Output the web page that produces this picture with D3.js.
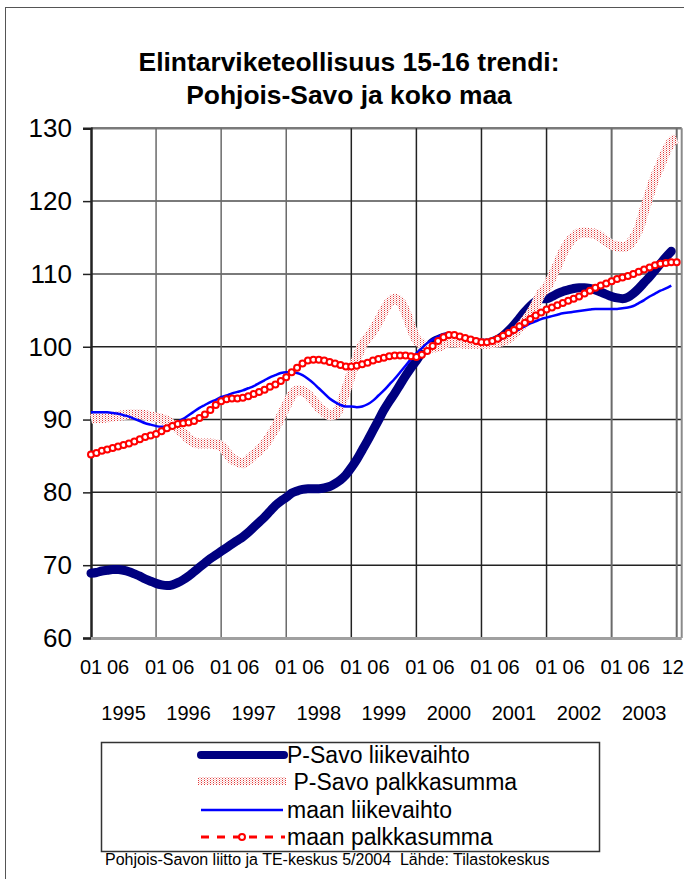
<!DOCTYPE html>
<html lang="fi">
<head>
<meta charset="UTF-8">
<title>Elintarviketeollisuus 15-16 trendi</title>
<style>
  body { margin: 0; background: #fff; }
  svg text { font-family: Arial, "Liberation Sans", sans-serif; fill: #000; }
</style>
</head>
<body>
<div id="chart"></div>
<script src="https://cdn.jsdelivr.net/npm/d3@7"></script>
<script>
// kuukausisarjat 01/1995 ->, indeksi (2000 = 100)
var years = [1995, 1996, 1997, 1998, 1999, 2000, 2001, 2002, 2003];
var monthLabels = ["01", "06"];
var lastLabel = "12";
var yTicks = [60, 70, 80, 90, 100, 110, 120, 130];

var psavoLiikevaihto = [
  68.9, 69.0, 69.2, 69.3, 69.4, 69.4, 69.3, 69.1, 68.8, 68.5, 68.1, 67.8,
  67.5, 67.3, 67.2, 67.3, 67.6, 68.0, 68.5, 69.1, 69.7, 70.3, 70.9, 71.4,
  71.9, 72.4, 72.9, 73.4, 73.9, 74.5, 75.2, 75.9, 76.6, 77.4, 78.2, 78.8,
  79.3, 79.9, 80.2, 80.4, 80.5, 80.5, 80.5, 80.6, 80.8, 81.2, 81.7, 82.4,
  83.4, 84.5, 85.8, 87.1, 88.5, 89.9, 91.3, 92.5, 93.6, 94.8, 96.0, 97.1,
  98.1, 99.2, 99.9, 100.6, 101.0, 101.3, 101.4, 101.3, 101.1, 100.9, 100.7, 100.6,
  100.5, 100.5, 100.7, 101.0, 101.5, 102.2, 103.0, 103.9, 104.8, 105.6, 106.2, 106.6,
  106.6, 106.9, 107.3, 107.6, 107.8, 108.0, 108.1, 108.1, 108.0, 107.8, 107.5, 107.2,
  106.9, 106.7, 106.6, 106.8, 107.3, 108.0, 108.8, 109.6, 110.5, 111.4, 112.3, 113.1,
  null
];
var psavoPalkkasumma = [
  90.1, 90.2, 90.2, 90.3, 90.4, 90.5, 90.6, 90.7, 90.7, 90.7, 90.6, 90.4,
  90.3, 90.1, 89.8, 89.3, 88.8, 88.1, 87.4, 86.9, 86.7, 86.7, 86.7, 86.6,
  86.4, 85.5, 84.6, 84.2, 84.0, 84.5, 85.1, 85.8, 86.6, 87.7, 88.9, 90.4,
  91.9, 93.3, 94.0, 93.9, 93.4, 92.6, 91.7, 91.0, 90.6, 90.7, 92.0, 94.0,
  96.3, 98.4, 100.2, 101.2, 102.2, 103.5, 104.9, 106.1, 106.6, 106.2, 104.8, 102.7,
  101.0, 100.4, 100.0, 99.9, 100.0, 100.3, 100.6, 100.6, 100.5, 100.4, 100.4, 100.4,
  100.4, 100.4, 100.5, 100.6, 100.8, 101.2, 101.8, 102.6, 103.5, 104.5, 105.8, 107.3,
  108.1, 109.6, 111.2, 112.9, 114.2, 115.1, 115.6, 115.7, 115.6, 115.5, 115.1, 114.5,
  114.0, 113.8, 113.7, 113.9, 114.8, 116.2, 118.7, 121.0, 123.3, 125.0, 126.8, 128.1,
  128.6
];
var maanLiikevaihto = [
  91.0, 91.0, 91.0, 91.0, 90.9, 90.8, 90.6, 90.4, 90.1, 89.8, 89.5, 89.3,
  89.1, 89.0, 89.1, 89.3, 89.7, 90.1, 90.6, 91.1, 91.6, 92.0, 92.4, 92.7,
  93.1, 93.3, 93.6, 93.8, 94.0, 94.3, 94.6, 95.0, 95.4, 95.8, 96.1, 96.4,
  96.5, 96.5, 96.4, 96.1, 95.6, 95.0, 94.3, 93.6, 92.9, 92.4, 92.0, 91.8,
  91.8, 91.7, 91.8, 92.1, 92.6, 93.3, 94.0, 94.8, 95.6, 96.5, 97.4, 98.3,
  99.1, 99.8, 100.5, 101.0, 101.4, 101.7, 101.8, 101.7, 101.5, 101.3, 101.0, 100.8,
  100.6, 100.6, 100.7, 100.9, 101.2, 101.6, 102.0, 102.4, 102.8, 103.2, 103.5, 103.8,
  104.0, 104.2, 104.4, 104.6, 104.7, 104.8, 104.9, 105.0, 105.1, 105.2, 105.2, 105.2,
  105.2, 105.2, 105.3, 105.4, 105.6, 106.0, 106.4, 106.9, 107.3, 107.7, 108.0, 108.4,
  null
];
var maanPalkkasumma = [
  85.2, 85.4, 85.7, 85.9, 86.1, 86.3, 86.5, 86.7, 87.0, 87.3, 87.6, 87.8,
  88.0, 88.4, 88.8, 89.1, 89.4, 89.5, 89.6, 89.8, 90.2, 90.7, 91.3, 92.0,
  92.5, 92.8, 92.9, 92.9, 93.0, 93.2, 93.5, 93.8, 94.1, 94.5, 94.8, 95.3,
  95.8, 96.5, 97.1, 97.7, 98.1, 98.2, 98.2, 98.1, 97.9, 97.7, 97.5, 97.3,
  97.3, 97.4, 97.6, 97.8, 98.1, 98.3, 98.5, 98.7, 98.8, 98.8, 98.8, 98.7,
  98.6, 98.9, 99.4, 100.1, 100.8, 101.3, 101.6, 101.6, 101.4, 101.2, 101.0, 100.8,
  100.6, 100.6, 100.8, 101.1, 101.5, 101.9, 102.3, 102.8, 103.3, 103.8, 104.3, 104.7,
  105.1, 105.4, 105.7, 106.0, 106.3, 106.6, 106.9, 107.3, 107.7, 108.1, 108.4, 108.7,
  109.0, 109.3, 109.5, 109.7, 110.0, 110.3, 110.6, 110.9, 111.2, 111.4, 111.5, 111.6,
  111.6
];

var nMonths = maanPalkkasumma.length;

var svg = d3.select("#chart").append("svg")
  .attr("width", 684)
  .attr("height", 879);

// kehys
svg.append("rect")
  .attr("x", 5.5).attr("y", 7.5)
  .attr("width", 720).attr("height", 900)
  .attr("fill", "none").attr("stroke", "#555").attr("stroke-width", 1);

// otsikko
svg.append("text").attr("x", 349).attr("y", 71)
  .attr("text-anchor", "middle").attr("font-size", 26.4).attr("font-weight", "bold")
  .text("Elintarviketeollisuus 15-16 trendi:");
svg.append("text").attr("x", 349).attr("y", 104)
  .attr("text-anchor", "middle").attr("font-size", 26.4).attr("font-weight", "bold")
  .text("Pohjois-Savo ja koko maa");

var plot = {left: 91, right: 681.7, top: 128.3, bottom: 638};

var x = d3.scaleLinear().domain([0, 108]).range([91, 676.7]);
var y = d3.scaleLinear().domain([60, 130]).range([plot.bottom, plot.top]);

// dot pattern for the P-Savo palkkasumma band
var defs = svg.append("defs");
var pat = defs.append("pattern").attr("id", "dots")
  .attr("patternUnits", "userSpaceOnUse").attr("width", 3).attr("height", 2);
pat.append("rect").attr("width", 3).attr("height", 2).attr("fill", "#ffffff");
pat.append("rect").attr("width", 1).attr("height", 1).attr("fill", "#e23a3a");
pat.append("rect").attr("x", 1.5).attr("y", 1).attr("width", 1).attr("height", 1).attr("fill", "#eea0a0");

// gridlines
var g = svg.append("g");
g.selectAll("line.hgrid").data(yTicks.slice(1)).enter().append("line")
  .attr("x1", plot.left).attr("x2", plot.right)
  .attr("y1", function(d) { return y(d); }).attr("y2", function(d) { return y(d); })
  .attr("stroke", function(d) { return d >= 110 ? "#7a7a7a" : "#222"; })
  .attr("stroke-width", function(d) { return d == 130 ? 2.5 : (d >= 110 ? 2 : 1.5); });

var yearLines = d3.range(1, years.length + 1).map(function(k) { return k * 12; });
g.selectAll("line.vgrid").data(yearLines).enter().append("line")
  .attr("x1", function(d) { return x(d); }).attr("x2", function(d) { return x(d); })
  .attr("y1", plot.top).attr("y2", plot.bottom)
  .attr("stroke", function(d) { return (d == 12 || d == 24 || d == 36 || d >= 96) ? "#6a6a6a" : "#222"; })
  .attr("stroke-width", function(d) { return d >= 96 ? 2 : 1.5; });

// right border
g.append("line").attr("x1", plot.right).attr("x2", plot.right)
  .attr("y1", plot.top).attr("y2", plot.bottom)
  .attr("stroke", "#8a8a8a").attr("stroke-width", 2);

// y axis
var yAxis = svg.append("g")
  .attr("transform", "translate(" + plot.left + ",0)")
  .call(d3.axisLeft(y).tickValues(yTicks).tickSize(8).tickPadding(11));
yAxis.select(".domain").attr("stroke", "#222").attr("stroke-width", 2.5);
yAxis.selectAll(".tick line").attr("stroke", "#222").attr("stroke-width", 1.5);
yAxis.selectAll(".tick text").attr("font-size", 26).attr("font-family", "Arial, 'Liberation Sans', sans-serif");

// bottom axis line
svg.append("line").attr("x1", plot.left).attr("x2", plot.right)
  .attr("y1", plot.bottom + 0.5).attr("y2", plot.bottom + 0.5)
  .attr("stroke", "#a0a0a0").attr("stroke-width", 3);

// month labels
var monthTicks = [];
years.forEach(function(yr, k) {
  monthTicks.push({i: k * 12, t: monthLabels[0]});
  monthTicks.push({i: k * 12 + 5, t: monthLabels[1]});
});
monthTicks.push({i: nMonths - 1, t: lastLabel, last: true});

svg.append("g").selectAll("text").data(monthTicks).enter().append("text")
  .attr("x", function(d) { return d.last ? 684 : x(d.i); }).attr("y", 674)
  .attr("text-anchor", function(d) { return d.last ? "end" : "middle"; })
  .attr("font-size", 20)
  .text(function(d) { return d.t; });

svg.append("g").selectAll("text").data(years).enter().append("text")
  .attr("x", function(d, k) { return x(k * 12 + 6); }).attr("y", 720)
  .attr("text-anchor", "middle").attr("font-size", 20)
  .text(function(d) { return d; });

// series
var line = d3.line()
  .defined(function(d) { return d != null; })
  .x(function(d, i) { return x(i); })
  .y(function(d) { return y(d); })
  .curve(d3.curveMonotoneX);

svg.append("path").datum(psavoLiikevaihto)
  .attr("fill", "none").attr("stroke", "#000080").attr("stroke-width", 9)
  .attr("stroke-linecap", "round").attr("d", line);

svg.append("path").datum(psavoPalkkasumma)
  .attr("fill", "none").attr("stroke", "url(#dots)").attr("stroke-width", 10)
  .attr("d", line);

svg.append("path").datum(maanLiikevaihto)
  .attr("fill", "none").attr("stroke", "#0000ff").attr("stroke-width", 2.5)
  .attr("d", line);

svg.append("path").datum(maanPalkkasumma)
  .attr("fill", "none").attr("stroke", "#ff0000").attr("stroke-width", 3)
  .attr("stroke-dasharray", "7,6").attr("d", line);

svg.append("g").selectAll("circle").data(maanPalkkasumma).enter().append("circle")
  .attr("cx", function(d, i) { return x(i); })
  .attr("cy", function(d) { return y(d); })
  .attr("r", 3).attr("fill", "#fff").attr("stroke", "#ff0000").attr("stroke-width", 2);

// legend
var legend = svg.append("g");
legend.append("rect").attr("x", 101.5).attr("y", 742.5).attr("width", 498).attr("height", 109)
  .attr("fill", "#fff").attr("stroke", "#333").attr("stroke-width", 1.5);

var legendRows = [
  {name: "P-Savo liikevaihto", y: 755},
  {name: " P-Savo palkkasumma", y: 782},
  {name: "maan liikevaihto", y: 810},
  {name: "maan palkkasumma", y: 837}
];

legend.append("line").attr("x1", 201).attr("x2", 284).attr("y1", 755).attr("y2", 755)
  .attr("stroke", "#000080").attr("stroke-width", 8).attr("stroke-linecap", "round");
legend.append("rect").attr("x", 198).attr("y", 777).attr("width", 88).attr("height", 8)
  .attr("fill", "url(#dots)");
legend.append("line").attr("x1", 201).attr("x2", 283).attr("y1", 810).attr("y2", 810)
  .attr("stroke", "#0000ff").attr("stroke-width", 2.5);
legend.append("line").attr("x1", 201).attr("x2", 285).attr("y1", 837).attr("y2", 837)
  .attr("stroke", "#ff0000").attr("stroke-width", 3).attr("stroke-dasharray", "8,8");
legend.append("circle").attr("cx", 242).attr("cy", 837).attr("r", 3)
  .attr("fill", "#fff").attr("stroke", "#ff0000").attr("stroke-width", 2);

legend.selectAll("text").data(legendRows).enter().append("text")
  .attr("x", 287).attr("y", function(d) { return d.y + 8; })
  .attr("font-size", 23).attr("xml:space", "preserve")
  .style("white-space", "pre")
  .text(function(d) { return d.name; });

// lähde
svg.append("text").attr("x", 105).attr("y", 865).attr("font-size", 16)
  .style("white-space", "pre")
  .text("Pohjois-Savon liitto ja TE-keskus 5/2004  Lähde: Tilastokeskus");
</script>
</body>
</html>
